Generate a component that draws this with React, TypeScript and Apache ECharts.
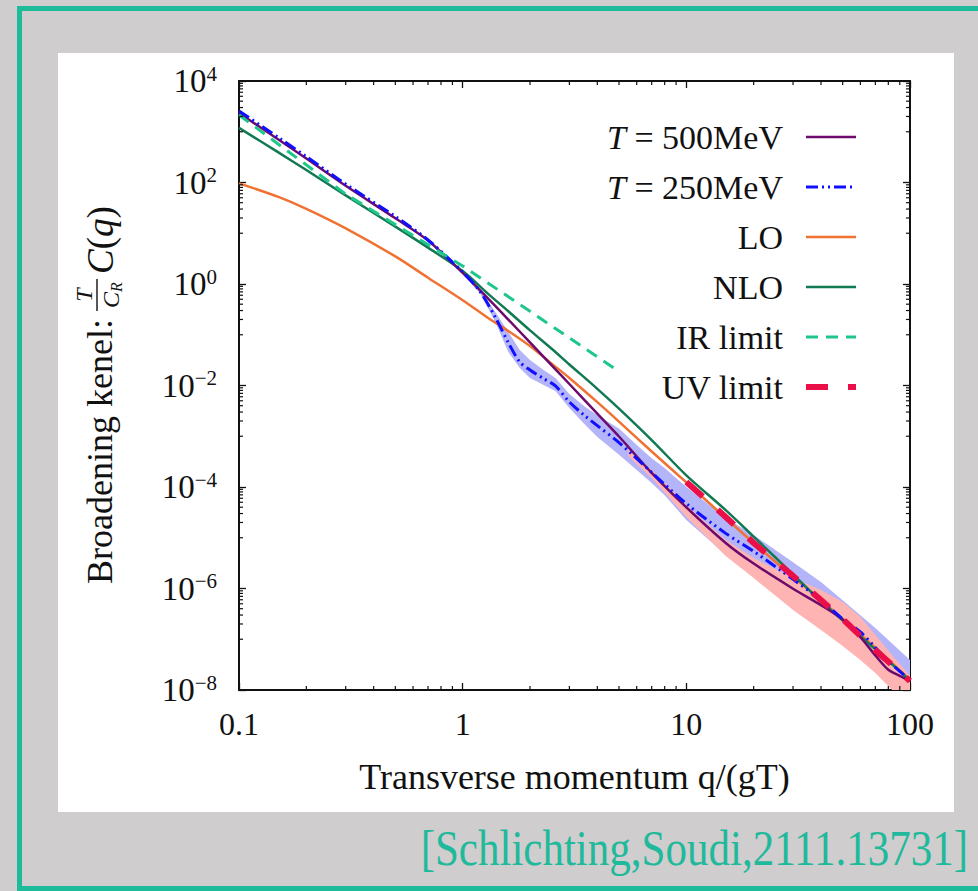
import React, { useEffect, useRef } from 'react';
import * as echarts from 'echarts';

const FONT = '"Liberation Serif", "DejaVu Serif", serif';
const INK = '#111111';

// ---- axis ticks / labels ----
const xTickValues = [0.1, 1, 10, 100];
const xTickLabels = ['0.1', '1', '10', '100'];
const yTickExponents = [-8, -6, -4, -2, 0, 2, 4];

// ---- T = 500 MeV (purple) ----
const qT500 = [0.1, 0.15, 0.2, 0.3, 0.5, 0.7, 1, 1.3, 1.6, 2, 2.5, 3, 4, 5, 7, 10, 15, 20, 30, 40, 50, 60, 70, 80, 90, 100];
const cT500 = [2340, 703, 296, 86, 19.7, 7.2, 1.65, 0.515, 0.199, 0.0706, 0.025, 0.0107, 0.00279, 9.9e-4, 1.89e-4, 3.98e-5, 7.9e-6, 3.1e-6, 9.9e-7, 4.7e-7, 2.45e-7, 1.1e-7, 4.8e-8, 2.5e-8, 1.9e-8, 1.5e-8];

// ---- T = 250 MeV (blue dash-dot) ----
const qT250 = [0.1, 0.15, 0.2, 0.3, 0.5, 0.7, 1, 1.2, 1.4, 1.6, 1.8, 2, 2.3, 2.6, 3, 3.5, 4, 5, 7, 10, 15, 20, 30, 40, 50, 60, 70, 80, 100];
const cT250 = [2570, 771, 324, 93, 21.4, 7.36, 1.72, 0.695, 0.22, 0.07, 0.029, 0.0202, 0.0137, 0.0098, 0.00473, 0.00258, 0.00162, 7.5e-4, 1.94e-4, 4.7e-5, 1.22e-5, 5.4e-6, 1.52e-6, 5.9e-7, 2.5e-7, 1.39e-7, 6.9e-8, 3.7e-8, 1.57e-8];

// ---- LO (orange) ----
const qLO = [0.1, 0.15, 0.2, 0.3, 0.5, 0.7, 1, 1.3, 1.6, 2, 2.5, 3, 4, 5, 7, 10, 15, 20, 30, 40, 50, 70, 100];
const cLO = [96, 52, 30.3, 12.5, 3.5, 1.33, 0.48, 0.214, 0.119, 0.06, 0.027, 0.0141, 0.0047, 0.00194, 5.0e-4, 1.23e-4, 2.45e-5, 7.9e-6, 1.7e-6, 5.9e-7, 2.5e-7, 6.8e-8, 1.58e-8];

// ---- NLO (dark green) ----
const qNLO = [0.1, 0.15, 0.2, 0.3, 0.5, 0.7, 1, 1.3, 1.6, 2, 2.5, 3, 4, 5, 7, 10, 15, 20, 30, 40, 50, 70, 100];
const cNLO = [1190, 392, 176, 55.7, 13.5, 5.2, 1.8, 0.64, 0.29, 0.122, 0.053, 0.026, 0.0086, 0.0035, 8.4e-4, 1.7e-4, 3.5e-5, 1.05e-5, 1.9e-6, 5.6e-7, 2.35e-7, 6.3e-8, 1.55e-8];

// ---- IR limit ----
const qIR = [0.1, 0.3, 1, 2, 4.8];
const cIR = [2140, 59, 2.26, 0.29, 0.0213];

// ---- UV limit ----
const qUV = [10, 15, 20, 30, 40, 50, 70, 100];
const cUV = [1.26e-4, 2.57e-5, 7.9e-6, 1.77e-6, 5.9e-7, 2.5e-7, 6.1e-8, 1.5e-8];

// ---- uncertainty band T = 250 MeV (light blue) ----
const qBandBlue = [1.1, 1.2, 1.4, 1.6, 1.8, 2, 2.3, 2.6, 3, 3.5, 4, 5, 6, 7, 8, 10, 15, 20, 30, 40, 50, 70, 100];
const hiBandBlue = [1.05, 0.762, 0.28, 0.113, 0.05, 0.0318, 0.0202, 0.0141, 0.0068, 0.0039, 0.0026, 0.00142, 6.7e-4, 3.7e-4, 2.37e-4, 1.0e-4, 2.45e-5, 1.13e-5, 3.3e-6, 1.34e-6, 5.9e-7, 1.67e-7, 3.9e-8];
const loBandBlue = [0.98, 0.635, 0.178, 0.0457, 0.0221, 0.0141, 0.0102, 0.0078, 0.0036, 0.00174, 9.7e-4, 4.3e-4, 2.16e-4, 1.2e-4, 6.9e-5, 2.24e-5, 4.6e-6, 1.85e-6, 5.2e-7, 2.4e-7, 1.39e-7, 4.9e-8, 1.3e-8];

// ---- uncertainty band T = 500 MeV (pink) ----
const qBandPink = [5.5, 7, 10, 15, 20, 30, 40, 50, 60, 70, 85, 100];
const hiBandPink = [5.36e-4, 2.16e-4, 4.4e-5, 9.0e-6, 4.0e-6, 1.61e-6, 9.3e-7, 5.4e-7, 2.74e-7, 1.21e-7, 4.3e-8, 1.9e-8];
const loBandPink = [4.08e-4, 1.5e-4, 2.56e-5, 4.37e-6, 1.61e-6, 3.77e-7, 1.52e-7, 7.4e-8, 3.9e-8, 2.16e-8, 9.1e-9, 5.1e-9];

const C_T500 = '#6c0b6c';
const C_T250 = '#1010ff';
const C_LO = '#f07232';
const C_NLO = '#117a52';
const C_IR = '#1ec68c';
const C_UV = '#ea0f48';

const legendItems = [
  { label: '{i|T} = 500MeV', color: C_T500, width: 2.5, dash: null as number[] | null },
  { label: '{i|T} = 250MeV', color: C_T250, width: 3, dash: [12, 4, 2, 4, 2, 4] },
  { label: 'LO', color: C_LO, width: 2.5, dash: null },
  { label: 'NLO', color: C_NLO, width: 2.5, dash: null },
  { label: 'IR limit', color: C_IR, width: 3, dash: [12, 8] },
  { label: 'UV limit', color: C_UV, width: 6, dash: [22, 20] },
];

const lg = Math.log10;
const logPts = (qs: number[], cs: number[]) => qs.map((q, i) => [lg(q), lg(cs[i])]);

function lineSeries(name: string, qs: number[], cs: number[], color: string, width: number, type: any, smooth: number) {
  return {
    name,
    type: 'line',
    data: logPts(qs, cs),
    symbol: 'none',
    showSymbol: false,
    smooth,
    silent: true,
    lineStyle: { color, width, type, cap: 'butt' },
    itemStyle: { color },
    z: 3,
  };
}

function bandSeries(name: string, qs: number[], lo: number[], hi: number[], fill: string) {
  return {
    name,
    type: 'custom',
    clip: true,
    silent: true,
    data: [[0, 0]],
    z: 2,
    renderItem: (params: any, api: any) => {
      if (params.dataIndex !== 0) return null;
      const up = qs.map((q, i) => api.coord([lg(q), lg(hi[i])]));
      const dn = qs.map((q, i) => api.coord([lg(q), lg(lo[i])])).reverse();
      return { type: 'polygon', shape: { points: up.concat(dn) }, style: { fill, stroke: null } };
    },
  };
}

// minor tick positions (log scale subdivisions)
const xMinorTicks: number[] = [];
[0.1, 1, 10].forEach((d) => { for (let m = 2; m <= 9; m++) xMinorTicks.push(m * d); });
const yMinorTicks: number[] = [];
[-8, -6, -4, -2, 0, 2].forEach((e) => { for (let k = 1; k <= 9; k++) yMinorTicks.push(k * Math.pow(10, e + 1)); });

const minorTickSeries = {
  type: 'custom',
  silent: true,
  data: [[0, 0]],
  z: 4,
  renderItem: (params: any, api: any) => {
    if (params.dataIndex !== 0) return null;
    const L = 4;
    const children: any[] = [];
    const [xl, yb] = api.coord([-1, -8]);
    const [xr, yt] = api.coord([2, 4]);
    const st = { stroke: INK, lineWidth: 1.2 };
    xMinorTicks.forEach((v) => {
      const px = api.coord([lg(v), -8])[0];
      children.push({ type: 'line', shape: { x1: px, y1: yb, x2: px, y2: yb - L }, style: st });
      children.push({ type: 'line', shape: { x1: px, y1: yt, x2: px, y2: yt + L }, style: st });
    });
    yMinorTicks.forEach((v) => {
      const py = api.coord([-1, lg(v)])[1];
      children.push({ type: 'line', shape: { x1: xl, y1: py, x2: xl + L, y2: py }, style: st });
      children.push({ type: 'line', shape: { x1: xr, y1: py, x2: xr - L, y2: py }, style: st });
    });
    return { type: 'group', children };
  },
};

const axisBase = {
  type: 'value',
  axisLine: { show: true, onZero: false, lineStyle: { color: INK, width: 2 } },
  axisTick: { show: true, inside: true, length: 7, lineStyle: { color: INK, width: 1.3 } },
  splitLine: { show: false },
};

const xLabel = (v: number) => {
  const i = xTickValues.findIndex((t) => Math.abs(lg(t) - v) < 1e-6);
  return i >= 0 ? xTickLabels[i] : '';
};
const yLabel = (v: number) => {
  const e = yTickExponents.find((t) => Math.abs(t - v) < 1e-6);
  if (e === undefined) return '';
  return '{b|10}{s|' + (e < 0 ? '\u2212' + -e : String(e)) + '}';
};

const legendGraphics: any[] = [];
legendItems.forEach((it, i) => {
  const y = 137 + 50 * i;
  legendGraphics.push({
    type: 'text',
    x: 783,
    y,
    silent: true,
    style: {
      text: it.label,
      align: 'right',
      verticalAlign: 'middle',
      fontFamily: FONT,
      fontSize: 34,
      fill: INK,
      rich: { i: { fontStyle: 'italic', fontFamily: FONT, fontSize: 34, fill: INK } },
    },
  });
  legendGraphics.push({
    type: 'line',
    silent: true,
    shape: { x1: 806, y1: y, x2: 856, y2: y },
    style: { stroke: it.color, lineWidth: it.width, lineDash: it.dash || undefined },
  });
});

const yTitle = {
  type: 'group',
  x: 100,
  y: 384,
  rotation: Math.PI / 2,
  silent: true,
  children: [
    { type: 'text', x: -200, y: 0, style: { text: 'Broadening kenel:', fontFamily: FONT, fontSize: 36, fill: INK, align: 'left', verticalAlign: 'middle' } },
    { type: 'text', x: 89, y: -16, style: { text: 'T', fontStyle: 'italic', fontFamily: FONT, fontSize: 24, fill: INK, align: 'center', verticalAlign: 'middle' } },
    { type: 'line', shape: { x1: 73, y1: -3, x2: 105, y2: -3 }, style: { stroke: INK, lineWidth: 1.4 } },
    {
      type: 'text', x: 89, y: 11,
      style: {
        text: '{c|C}{r|R}', align: 'center', verticalAlign: 'middle', fill: INK, fontFamily: FONT, fontSize: 24,
        rich: {
          c: { fontStyle: 'italic', fontFamily: FONT, fontSize: 24, fill: INK, lineHeight: 26 },
          r: { fontStyle: 'italic', fontFamily: FONT, fontSize: 16, fill: INK, lineHeight: 26, verticalAlign: 'bottom' },
        },
      },
    },
    {
      type: 'text', x: 110, y: 0,
      style: {
        text: '{i|C}({i|q})', align: 'left', verticalAlign: 'middle', fill: INK, fontFamily: FONT, fontSize: 37,
        rich: { i: { fontStyle: 'italic', fontFamily: FONT, fontSize: 37, fill: INK } },
      },
    },
  ],
};

const citation = {
  type: 'text',
  x: 968,
  y: 848,
  scaleX: 0.86,
  silent: true,
  style: {
    text: '[Schlichting,Soudi,2111.13731]',
    align: 'right',
    verticalAlign: 'middle',
    fontFamily: FONT,
    fontSize: 50,
    fill: '#21b99b',
  },
};

const option: any = {
  animation: false,
  backgroundColor: 'transparent',
  grid: { left: 239, top: 81, width: 671, height: 609, containLabel: false },
  xAxis: [
    {
      ...axisBase,
      min: -1, max: 2, interval: 1, position: 'bottom',
      axisLabel: { formatter: xLabel, fontFamily: FONT, fontSize: 32, color: INK, margin: 18 },
      name: 'Transverse momentum q/(gT)',
      nameLocation: 'middle',
      nameGap: 69,
      nameTextStyle: { fontFamily: FONT, fontSize: 36, color: INK },
    },
    { ...axisBase, min: -1, max: 2, interval: 1, position: 'top', axisLabel: { show: false } },
  ],
  yAxis: [
    {
      ...axisBase,
      min: -8, max: 4, interval: 2, position: 'left',
      axisLabel: {
        formatter: yLabel,
        margin: 22,
        color: INK,
        rich: {
          b: { fontFamily: FONT, fontSize: 33, lineHeight: 36, color: INK },
          s: { fontFamily: FONT, fontSize: 21, lineHeight: 36, verticalAlign: 'top', color: INK },
        },
      },
    },
    { ...axisBase, min: -8, max: 4, interval: 2, position: 'right', axisLabel: { show: false } },
  ],
  series: [
    bandSeries('T = 250MeV band', qBandBlue, loBandBlue, hiBandBlue, '#b4b4f9'),
    bandSeries('T = 500MeV band', qBandPink, loBandPink, hiBandPink, '#ffb4b4'),
    lineSeries('LO', qLO, cLO, C_LO, 2.5, 'solid', 0.3),
    lineSeries('NLO', qNLO, cNLO, C_NLO, 2.5, 'solid', 0.3),
    lineSeries('T = 500MeV', qT500, cT500, C_T500, 2.5, 'solid', 0.3),
    lineSeries('T = 250MeV', qT250, cT250, C_T250, 3, [12, 4, 2, 4, 2, 4], 0.3),
    lineSeries('IR limit', qIR, cIR, C_IR, 3, [12, 8], 0),
    lineSeries('UV limit', qUV, cUV, C_UV, 6, [22, 20], 0),
    minorTickSeries,
  ],
  graphic: [...legendGraphics, yTitle, citation],
};

export default function App() {
  const ref = useRef<HTMLDivElement>(null);
  useEffect(() => {
    if (!ref.current) return;
    const chart = echarts.init(ref.current, null, { renderer: 'svg' });
    chart.setOption(option);
    return () => chart.dispose();
  }, []);
  return (
    <div style={{ position: 'fixed', left: 0, top: 0, width: 978, height: 891, background: '#cfcdcd', overflow: 'hidden' }}>
      <div style={{ position: 'absolute', left: 17, top: 6, width: 1100, height: 885, border: '5px solid #1dbb99', boxSizing: 'border-box' }} />
      <div style={{ position: 'absolute', left: 58, top: 53, width: 896, height: 759, background: '#ffffff' }} />
      <div ref={ref} style={{ position: 'absolute', left: 0, top: 0, width: 978, height: 891 }} />
    </div>
  );
}
